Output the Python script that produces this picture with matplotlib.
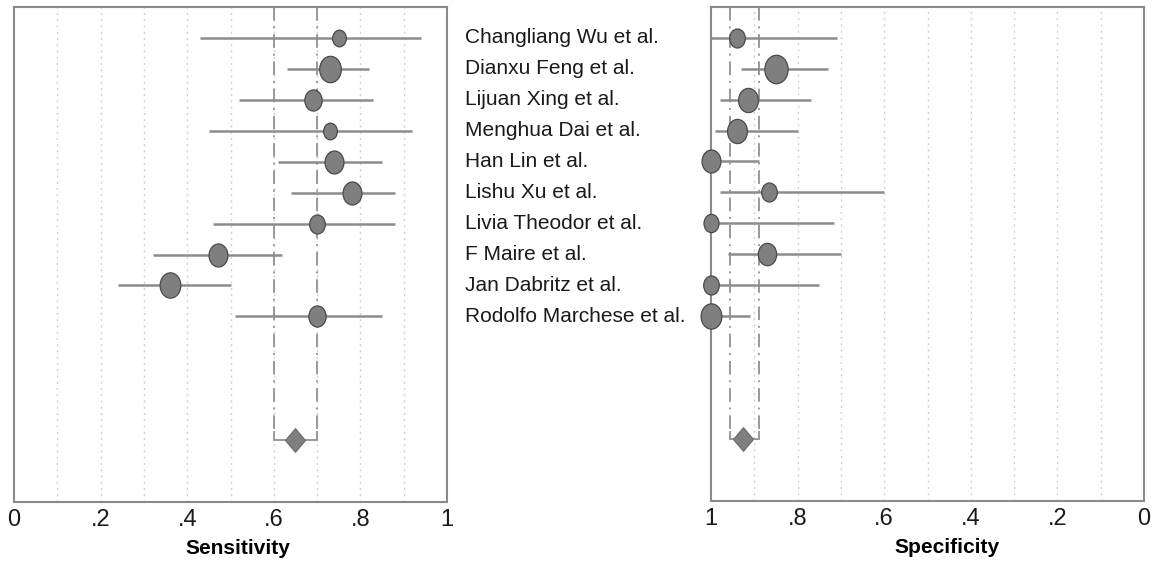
import numpy as np
import matplotlib.pyplot as plt
from matplotlib.path import Path

# study labels, top to bottom
studies = ["Changliang Wu et al.", "Dianxu Feng et al.", "Lijuan Xing et al.",
           "Menghua Dai et al.", "Han Lin et al.", "Lishu Xu et al.",
           "Livia Theodor et al.", "F Maire et al.", "Jan Dabritz et al.",
           "Rodolfo Marchese et al."]

# sensitivity estimates with 95% CI and study weights
sens = [0.75, 0.73, 0.69, 0.73, 0.74, 0.78, 0.70, 0.47, 0.36, 0.70]
sens_lo = [0.43, 0.63, 0.52, 0.45, 0.61, 0.64, 0.46, 0.32, 0.24, 0.51]
sens_hi = [0.94, 0.82, 0.83, 0.92, 0.85, 0.88, 0.88, 0.62, 0.50, 0.85]
sens_w = [10, 25, 16, 10, 19, 19, 13, 19, 23, 16]
sens_pooled = [0.65, 0.60, 0.70]

# specificity estimates with 95% CI and study weights
spec = [0.94, 0.85, 0.915, 0.94, 1.00, 0.865, 1.00, 0.87, 1.00, 1.00]
spec_lo = [0.71, 0.73, 0.77, 0.80, 0.89, 0.60, 0.715, 0.70, 0.75, 0.91]
spec_hi = [1.00, 0.93, 0.98, 0.99, 1.00, 0.98, 1.00, 0.96, 1.00, 1.00]
spec_w = [13, 29, 21, 21, 19, 13, 12, 18, 13, 23]
spec_pooled = [0.927, 0.89, 0.955]

# slightly tall ellipse / diamond markers
circ = Path.unit_circle()
oval = Path(circ.vertices * [0.82, 1.0], circ.codes)
diamond = Path([(0, 1), (0.85, 0), (0, -1), (-0.85, 0), (0, 1)],
               [Path.MOVETO, Path.LINETO, Path.LINETO, Path.LINETO, Path.CLOSEPOLY])

fill = "#7f7f7f"
edge = "#4a4a4a"
linec = "#8c8c8c"
frame = "#8a8a8a"

fig = plt.figure(figsize=(11.53, 5.71), dpi=100)
W, H = 1153, 571
ax1 = fig.add_axes([14 / W, 69 / H, 433 / W, 495 / H])
ax2 = fig.add_axes([711 / W, 70 / H, 433 / W, 494 / H])

rows = np.arange(1, len(studies) + 1)
pool_row = 14


def forest(ax, est, lo, hi, w, pooled, xlim, label, labelx):
    ax.set_xlim(*xlim)
    ax.set_ylim(16, 0)
    for g in np.arange(0.1, 1.0, 0.1):
        ax.axvline(g, color="#d0d0d0", lw=1, ls=(0, (1.5, 3)), zorder=0)
    # pooled CI guide lines
    for v in pooled[1:]:
        ax.plot([v, v], [0, pool_row], color="#999999", lw=1.4,
                ls=(0, (7, 3, 1, 3)), zorder=1)
        ax.plot([v, v], [pool_row - 0.25, pool_row], color="#999999", lw=1.4, zorder=1)
    ax.plot(pooled[1:], [pool_row, pool_row], color="#999999", lw=1.4, zorder=1)
    ax.hlines(rows, lo, hi, color=linec, lw=1.8, zorder=2)
    for r, e, s in zip(rows, est, w):
        ax.plot(e, r, marker=oval, ms=3.8 * np.sqrt(s), mfc=fill, mec=edge,
                mew=0.9, zorder=3, clip_on=False)
    ax.plot(pooled[0], pool_row, marker=diamond, ms=17, mfc=fill, mec="#6a6a6a",
            mew=0.8, zorder=3)
    ax.set_xticks([0, 0.2, 0.4, 0.6, 0.8, 1.0])
    ax.set_xticklabels(["0", ".2", ".4", ".6", ".8", "1"],
                       family="Liberation Sans", fontsize=17)
    ax.tick_params(axis="x", length=0, pad=5, colors="#1a1a1a")
    ax.set_yticks([])
    for sp in ax.spines.values():
        sp.set_color(frame)
        sp.set_linewidth(1.5)
    ax.set_xlabel(label, fontsize=15, fontweight="bold", family="Liberation Sans")
    ax.xaxis.set_label_coords(labelx, -0.075)


forest(ax1, sens, sens_lo, sens_hi, sens_w, sens_pooled, (0, 1), "Sensitivity", 0.517)
forest(ax2, spec, spec_lo, spec_hi, spec_w, spec_pooled, (1, 0), "Specificity", 0.544)

for r, name in zip(rows, studies):
    fig.text(465 / W, 1 - (7 + r * 495 / 16) / H, name, fontsize=15,
             family="Liberation Sans", color="#1a1a1a", va="center", ha="left")

fig.savefig("out.png", dpi=100)
